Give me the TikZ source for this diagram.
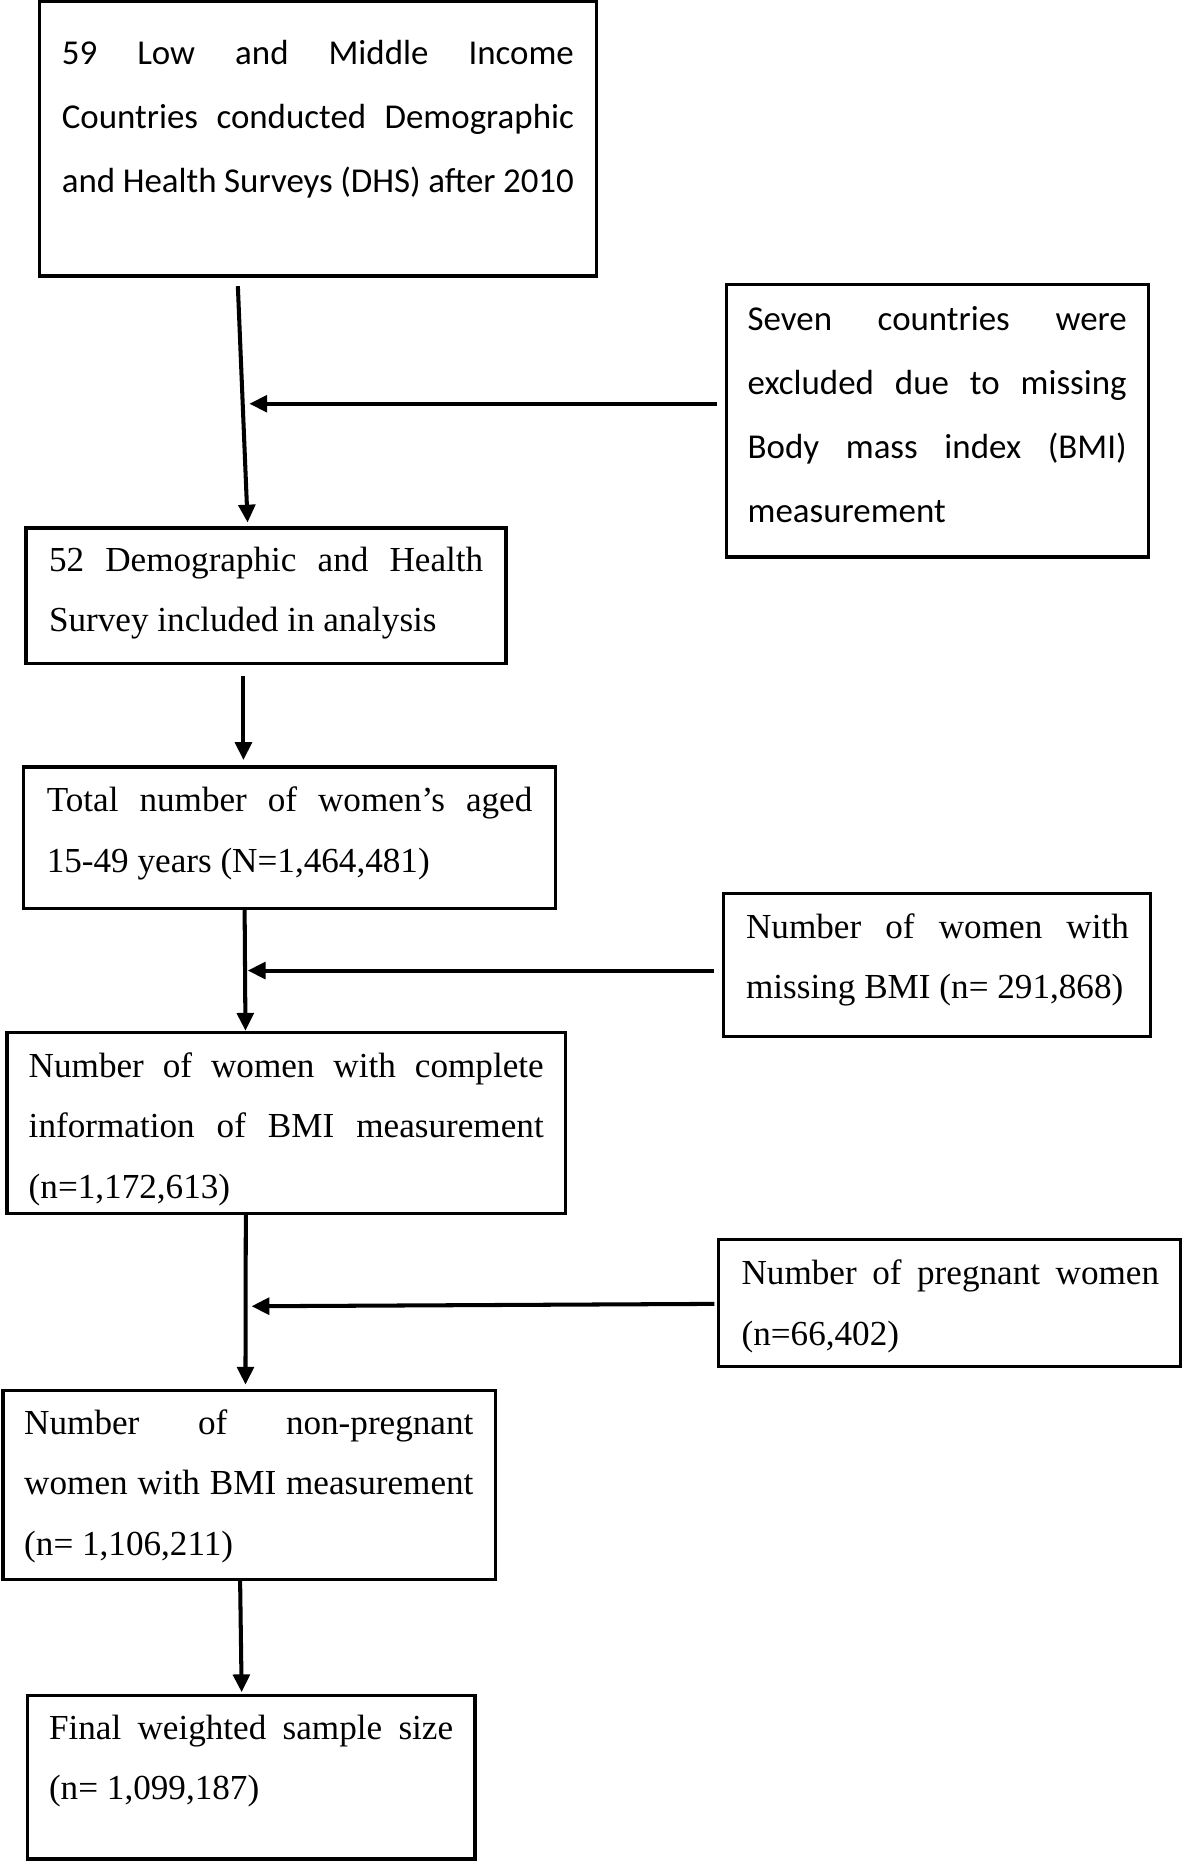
\documentclass[tikz,border=0pt]{standalone}
\usepackage{fontspec}
\newfontfamily\sansf{Carlito}
\newfontfamily\serf{Liberation Serif}
\usetikzlibrary{arrows.meta,fit}
\setlength{\parindent}{0pt}
\newcommand{\jl}[2]{\leavevmode\hbox to #1{\spaceskip=0pt\xspaceskip=0pt #2}}
\newcommand{\nl}[1]{\leavevmode\hbox{\spaceskip=0pt\xspaceskip=0pt #1}}
\newcommand{\fst}{\rule{0pt}{24pt}}
\tikzset{
  box/.style={draw=black, line width=2.8pt, inner sep=0pt, rectangle},
  sanst/.style={anchor=north west, inner sep=0pt, outer sep=0pt, text width=#1, align=left,
    font=\sansf\fontsize{29.4}{54}\selectfont, text=black},
  sert/.style={anchor=north west, inner sep=0pt, outer sep=0pt, text width=#1, align=left,
    font=\serf\fontsize{29.6}{51}\selectfont, text=black},
  arr/.style={-{Triangle[length=15pt,width=14pt]}, line width=3.4pt, draw=black}
}
\begin{document}
\begin{tikzpicture}[x=1pt,y=-1pt]
\useasboundingbox[fill=white] (0,0) rectangle (997,1568);

% boxes
\node[box, fit={(33,1.5) (502.5,232.5)}] (b1) {};
\node[box, fit={(611.5,239.5) (967,469)}] (b7) {};
\node[box, fit={(22,444.5) (426,558.5)}] (b52) {};
\node[box, fit={(20,646) (467.5,765)}] (btot) {};
\node[box, fit={(609.5,752.5) (969,873)}] (bmiss) {};
\node[box, fit={(6,869.5) (476,1022)}] (bcomp) {};
\node[box, fit={(605,1044) (994,1150.5)}] (bpreg) {};
\node[box, fit={(2.5,1171) (417,1330)}] (bnon) {};
\node[box, fit={(23,1427.5) (400,1565.5)}] (bfin) {};

% texts
\node[sanst=431.2pt] (t1) at (52.1,30.5)
  {\jl{431.2pt}{\fst 59 Low and Middle Income}\\\jl{431.2pt}{Countries conducted Demographic}\\\jl{431.2pt}{and Health Surveys (DHS) after 2010}};
\node[sanst=319.2pt] (t7) at (629.6,254)
  {\jl{319.2pt}{\fst Seven countries were}\\\jl{319.2pt}{excluded due to missing}\\\jl{319.2pt}{Body mass index (BMI)}\\\nl{measurement}};
\node[sert=365.7pt] (t52) at (41.3,457)
  {\jl{365.7pt}{\fst 52 Demographic and Health}\\\nl{Survey included in analysis}};
\node[sert=408.9pt] (ttot) at (39.4,659.7)
  {\jl{408.9pt}{\fst Total number of women’s aged}\\\nl{15-49 years (N=1,464,481)}};
\node[sert=322.4pt] (tmiss) at (628.3,766)
  {\jl{322.4pt}{\fst Number of women with}\\\nl{missing BMI (n= 291,868)}};
\node[sert=433.7pt] (tcomp) at (24.2,883)
  {\jl{433.7pt}{\fst Number of women with complete}\\\jl{433.7pt}{information of BMI measurement}\\\nl{(n=1,172,613)}};
\node[sert=351.6pt] (tpreg) at (624.5,1057.7)
  {\jl{351.6pt}{\fst Number of pregnant women}\\\nl{(n=66,402)}};
\node[sert=378.3pt] (tnon) at (20.4,1183.8)
  {\jl{378.3pt}{\fst Number of non-pregnant}\\\jl{378.3pt}{women with BMI measurement}\\\nl{(n= 1,106,211)}};
\node[sert=340.3pt] (tfin) at (41.3,1440.5)
  {\jl{340.3pt}{\fst Final weighted sample size}\\\nl{(n= 1,099,187)}};

% connector end points
\coordinate (a1s) at (200.3,241);
\coordinate (a1e) at (208.5,440);
\coordinate (a2s) at (205,569);
\coordinate (a2e) at (205,640);
\coordinate (a3s) at (206,766);
\coordinate (a3e) at (206.7,868);
\coordinate (a4s) at (207,1023);
\coordinate (a4e) at (206.7,1166);
\coordinate (a5s) at (202.2,1331);
\coordinate (a5e) at (203.5,1425);
\coordinate (h1s) at (604,340);
\coordinate (h1e) at (210,340);
\coordinate (h2s) at (601.6,817.3);
\coordinate (h2e) at (208.6,817.3);
\coordinate (h3s) at (601.6,1098);
\coordinate (h3e) at (211.8,1100);

\draw[arr] (a1s) -- (a1e);
\draw[arr] (a2s) -- (a2e);
\draw[arr] (a3s) -- (a3e);
\draw[arr] (a4s) -- (a4e);
\draw[arr] (a5s) -- (a5e);
\draw[arr] (h1s) -- (h1e);
\draw[arr] (h2s) -- (h2e);
\draw[arr] (h3s) -- (h3e);
\end{tikzpicture}
\end{document}
